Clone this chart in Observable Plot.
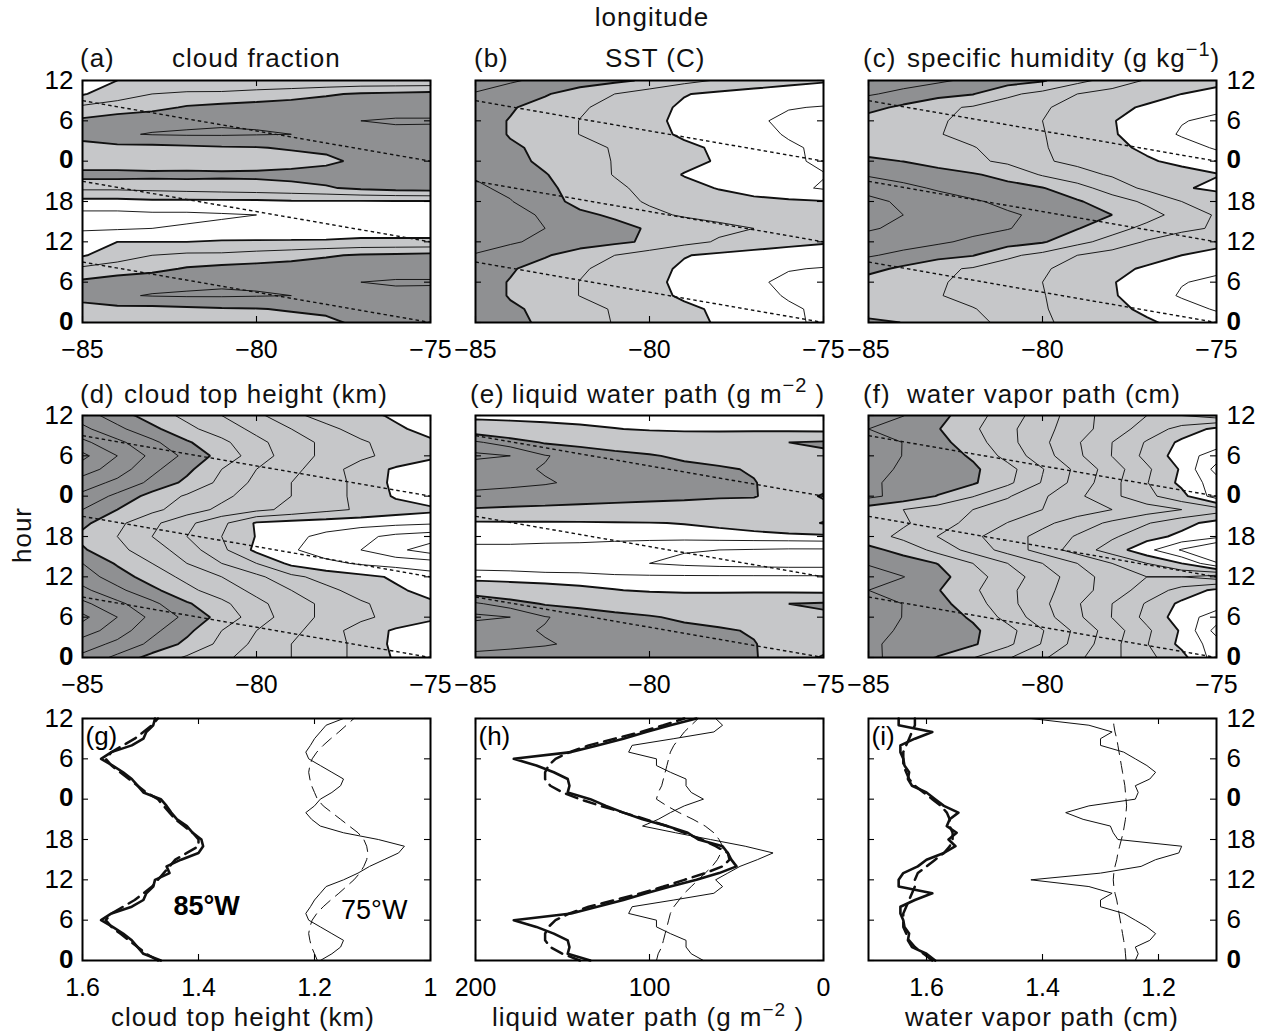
<!DOCTYPE html>
<html><head><meta charset="utf-8">
<script src="https://cdn.jsdelivr.net/npm/d3@7"></script>
<script src="https://cdn.jsdelivr.net/npm/@observablehq/plot@0.6"></script>
<style>
body{margin:0;background:#fff;}
#root{position:relative;width:1266px;height:1032px;overflow:hidden;background:#fff;font-family:"Liberation Sans",Arial,Helvetica,sans-serif;}
</style></head>
<body><div id="root"></div>
<script>
// ---------------- DATA ----------------
const lonTicks = [-85, -80, -75];
const lonTickLabels = ["\u221285", "\u221280", "\u221275"];
const hourTicks = [0, 6, 12, 18, 24, 30, 36];
const hourTickLabels = ["0", "6", "12", "18", "0", "6", "12"];
const gridLons = [-85, -84, -83, -82, -81, -80, -79, -78, -77, -76, -75];
const gridHours = [0, 2, 4, 6, 8, 10, 12, 14, 16, 18, 20, 22];
const dottedStartHour = [9, 21, 33];   // at 85W
const dottedEndHour = [0, 12, 24];     // at 75W

// (a) cloud fraction, rows = gridHours, columns = gridLons
const cloudFraction = [
  [0.72, 0.72, 0.72, 0.73, 0.74, 0.75, 0.76, 0.78, 0.82, 0.84, 0.85],
  [0.76, 0.77, 0.77, 0.78, 0.79, 0.795, 0.81, 0.82, 0.83, 0.84, 0.85],
  [0.84, 0.89, 0.905, 0.91, 0.91, 0.905, 0.9, 0.89, 0.88, 0.875, 0.87],
  [0.82, 0.86, 0.87, 0.88, 0.89, 0.89, 0.89, 0.89, 0.9, 0.91, 0.91],
  [0.72, 0.74, 0.77, 0.81, 0.83, 0.84, 0.85, 0.85, 0.86, 0.86, 0.86],
  [0.59, 0.66, 0.7, 0.72, 0.72, 0.74, 0.76, 0.79, 0.81, 0.82, 0.83],
  [0.59, 0.6, 0.6, 0.6, 0.61, 0.61, 0.61, 0.61, 0.62, 0.62, 0.62],
  [0.48, 0.49, 0.5, 0.51, 0.52, 0.53, 0.54, 0.55, 0.55, 0.55, 0.55],
  [0.47, 0.47, 0.48, 0.48, 0.49, 0.5, 0.51, 0.52, 0.53, 0.52, 0.51],
  [0.57, 0.57, 0.58, 0.58, 0.58, 0.58, 0.59, 0.59, 0.59, 0.59, 0.59],
  [0.72, 0.72, 0.73, 0.74, 0.75, 0.76, 0.77, 0.79, 0.82, 0.84, 0.85],
  [0.84, 0.84, 0.83, 0.83, 0.82, 0.82, 0.83, 0.84, 0.86, 0.87, 0.87]
];
// (b) SST (C)
const sst = [
  [23.6, 23.3, 22.8, 22.4, 21.95, 21.6, 21.3, 20.9, 20.6, 20.2, 19.8],
  [23.55, 23.1, 22.85, 22.4, 21.9, 21.55, 21.2, 20.85, 20.55, 20.15, 19.8],
  [23.4, 22.95, 22.5, 21.98, 21.7, 21.3, 20.85, 20.6, 20.35, 19.9, 19.6],
  [23.4, 22.95, 22.5, 21.98, 21.7, 21.2, 20.8, 20.5, 20.15, 19.8, 19.6],
  [23.5, 23.1, 22.6, 22.1, 21.75, 21.3, 20.85, 20.55, 20.25, 20.05, 19.95],
  [23.95, 23.6, 23.1, 22.5, 22.0, 21.5, 21.05, 20.8, 20.6, 20.5, 20.45],
  [24.3, 24.1, 23.8, 23.5, 23.2, 22.85, 22.3, 21.9, 21.6, 21.3, 21.1],
  [24.4, 24.2, 24.0, 23.6, 23.3, 22.9, 22.5, 22.2, 22.0, 21.9, 21.85],
  [24.5, 24.25, 23.9, 23.2, 22.85, 22.2, 21.9, 21.75, 21.6, 21.5, 21.4],
  [24.3, 24.05, 23.4, 22.7, 22.3, 21.9, 21.6, 21.4, 21.25, 21.15, 21.05],
  [24.15, 23.8, 23.2, 22.65, 22.2, 21.7, 21.3, 20.95, 20.6, 20.25, 19.9],
  [23.9, 23.6, 23.05, 22.5, 21.95, 21.45, 20.95, 20.75, 20.5, 20.25, 20.05]
];
// (c) specific humidity (g/kg)
const humidity = [
  [14.2, 13.98, 13.6, 13.2, 12.8, 12.1, 11.8, 11.4, 11.1, 10.8, 10.5],
  [13.55, 13.4, 13.25, 13.05, 12.6, 12.05, 11.75, 11.2, 10.85, 10.4, 9.9],
  [13.6, 13.3, 13.05, 12.7, 12.4, 12.05, 11.5, 11.1, 10.5, 9.9, 9.7],
  [13.6, 13.3, 13.1, 12.75, 12.4, 12.0, 11.5, 11.05, 10.6, 10.05, 9.8],
  [14.3, 13.8, 13.2, 12.9, 12.5, 12.1, 11.7, 11.2, 10.9, 10.5, 10.2],
  [15.1, 14.75, 14.35, 14.05, 13.2, 12.7, 12.0, 11.6, 11.3, 11.0, 10.8],
  [15.6, 15.4, 15.15, 14.8, 14.45, 14.1, 13.3, 12.6, 11.9, 11.5, 11.2],
  [16.1, 15.8, 15.6, 15.3, 15.05, 14.6, 14.05, 13.4, 12.7, 12.2, 11.9],
  [16.5, 16.0, 15.7, 15.45, 15.1, 14.85, 14.45, 14.0, 13.4, 12.6, 11.9],
  [16.3, 15.8, 15.35, 15.1, 14.8, 14.4, 14.1, 13.5, 12.8, 12.0, 11.6],
  [15.6, 15.2, 14.9, 14.6, 14.3, 14.05, 13.4, 12.5, 11.8, 11.1, 10.8],
  [14.9, 14.7, 14.4, 14.1, 13.7, 12.9, 12.3, 11.9, 11.6, 11.3, 11.05]
];
// (d) cloud top height (km)
const cloudTop = [
  [1.47, 1.43, 1.385, 1.355, 1.33, 1.30, 1.28, 1.255, 1.23, 1.195, 1.17],
  [1.50, 1.47, 1.43, 1.39, 1.35, 1.31, 1.28, 1.255, 1.23, 1.19, 1.16],
  [1.54, 1.50, 1.45, 1.41, 1.36, 1.32, 1.29, 1.26, 1.22, 1.195, 1.175],
  [1.57, 1.52, 1.47, 1.43, 1.385, 1.34, 1.30, 1.27, 1.25, 1.225, 1.21],
  [1.53, 1.49, 1.45, 1.405, 1.37, 1.33, 1.30, 1.27, 1.245, 1.225, 1.205],
  [1.49, 1.45, 1.41, 1.37, 1.34, 1.31, 1.28, 1.25, 1.225, 1.205, 1.19],
  [1.46, 1.42, 1.38, 1.35, 1.32, 1.29, 1.25, 1.225, 1.21, 1.195, 1.175],
  [1.44, 1.395, 1.36, 1.32, 1.28, 1.24, 1.19, 1.17, 1.155, 1.145, 1.14],
  [1.405, 1.37, 1.34, 1.30, 1.25, 1.19, 1.165, 1.14, 1.12, 1.09, 1.06],
  [1.39, 1.36, 1.32, 1.28, 1.24, 1.198, 1.17, 1.15, 1.13, 1.11, 1.10],
  [1.41, 1.37, 1.33, 1.29, 1.25, 1.195, 1.185, 1.18, 1.175, 1.17, 1.165],
  [1.44, 1.40, 1.37, 1.34, 1.31, 1.29, 1.27, 1.25, 1.235, 1.22, 1.21]
];
// (e) liquid water path (g m-2)
const liquidWater = [
  [126, 125, 124, 122, 120, 118, 116, 113, 112, 95, 65],
  [135, 133, 131, 128, 124, 120, 117, 114, 111, 100, 90],
  [136, 133, 129, 126, 123, 120, 116, 113, 108, 98, 88],
  [155, 150, 131, 124, 117, 112, 106, 101, 98, 100, 105],
  [133, 120, 108, 103, 98, 95, 93, 96, 104, 110, 114],
  [95, 88, 82, 76, 71, 67, 65, 64, 63, 62, 60],
  [60, 59, 58, 58, 57, 57, 57, 57, 57, 57, 57],
  [50, 50, 49, 48, 45, 40, 37, 35, 34, 33, 33],
  [50, 50, 49, 48, 46, 43, 41, 40, 39, 38, 38],
  [62, 62, 61, 61, 60, 60, 60, 61, 62, 63, 64],
  [65, 66, 66, 67, 68, 69, 71, 75, 82, 95, 112],
  [108, 106, 104, 102, 100, 98, 96, 95, 94, 92, 88]
];
// (f) water vapor path (cm)
const waterVapor = [
  [1.63, 1.605, 1.578, 1.542, 1.504, 1.466, 1.428, 1.39, 1.351, 1.313, 1.24],
  [1.625, 1.612, 1.598, 1.585, 1.549, 1.497, 1.445, 1.393, 1.342, 1.29, 1.24],
  [1.63, 1.616, 1.601, 1.587, 1.554, 1.502, 1.45, 1.399, 1.347, 1.295, 1.205],
  [1.64, 1.619, 1.599, 1.575, 1.526, 1.477, 1.428, 1.379, 1.329, 1.28, 1.24],
  [1.645, 1.619, 1.593, 1.558, 1.513, 1.469, 1.424, 1.38, 1.336, 1.291, 1.28],
  [1.62, 1.601, 1.582, 1.547, 1.51, 1.473, 1.437, 1.4, 1.363, 1.326, 1.29],
  [1.648, 1.621, 1.594, 1.555, 1.52, 1.48, 1.44, 1.40, 1.38, 1.38, 1.40],
  [1.615, 1.597, 1.579, 1.54, 1.50, 1.46, 1.42, 1.38, 1.34, 1.30, 1.225],
  [1.59, 1.568, 1.526, 1.485, 1.444, 1.403, 1.362, 1.321, 1.272, 1.216, 1.16],
  [1.56, 1.529, 1.499, 1.468, 1.438, 1.407, 1.376, 1.346, 1.315, 1.29, 1.27],
  [1.575, 1.546, 1.517, 1.488, 1.459, 1.43, 1.401, 1.372, 1.343, 1.314, 1.285],
  [1.56, 1.54, 1.52, 1.50, 1.48, 1.46, 1.44, 1.42, 1.40, 1.38, 1.36]
];

// hourly series (hour 0..23) at 85W and 75W, solid and dashed
const seriesHours = [0,1,2,3,4,5,6,7,8,9,10,11,12,13,14,15,16,17,18,19,20,21,22,23];
const cth85 = [1.465,1.495,1.505,1.515,1.53,1.548,1.568,1.55,1.515,1.495,1.49,1.478,1.475,1.45,1.455,1.43,1.40,1.392,1.395,1.41,1.42,1.437,1.447,1.455];
const cth85Dash = [1.47,1.49,1.505,1.52,1.535,1.55,1.56,1.55,1.53,1.51,1.495,1.48,1.47,1.46,1.45,1.44,1.42,1.40,1.40,1.41,1.425,1.44,1.45,1.46];
const cth75 = [1.19,1.17,1.155,1.15,1.17,1.19,1.21,1.215,1.207,1.20,1.19,1.18,1.15,1.125,1.105,1.08,1.055,1.045,1.09,1.15,1.19,1.205,1.215,1.20];
const cth75Dash = [1.195,1.20,1.205,1.208,1.21,1.208,1.204,1.196,1.185,1.172,1.158,1.145,1.132,1.122,1.115,1.11,1.108,1.11,1.115,1.125,1.14,1.155,1.17,1.185];
const lwp85 = [134,147,146,147,155,165,178,145,130,115,102,88,73,60,50,53,55,58,72,78,90,104,115,125];
const lwp85Dash = [140,150,157,160,160,158,154,146,135,120,105,92,80,68,58,54,55,62,70,80,90,102,115,128];
const lwp75 = [69,76,79,79,88,96,96,112,110,86,63,58,62,55,48,38,29,45,65,85,104,95,88,80];
const lwp75Dash = [96,95,93,92,91,90,89,88,86,83,80,76,72,68,64,61,59,58,60,63,68,75,83,90];
const wvp85 = [1.585,1.60,1.625,1.632,1.63,1.638,1.64,1.645,1.645,1.62,1.59,1.648,1.648,1.64,1.615,1.60,1.57,1.55,1.562,1.548,1.565,1.56,1.545,1.57];
const wvp85Dash = [1.59,1.605,1.62,1.63,1.635,1.64,1.64,1.64,1.635,1.63,1.625,1.62,1.62,1.615,1.60,1.585,1.57,1.56,1.555,1.555,1.56,1.56,1.565,1.575];
const wvp75 = [1.24,1.235,1.24,1.215,1.205,1.22,1.24,1.26,1.30,1.30,1.28,1.32,1.42,1.30,1.23,1.205,1.165,1.16,1.27,1.278,1.283,1.33,1.36,1.32];
const wvp75Dash = [1.256,1.257,1.258,1.26,1.262,1.264,1.266,1.268,1.27,1.272,1.275,1.277,1.278,1.277,1.275,1.272,1.27,1.267,1.264,1.261,1.259,1.257,1.256,1.255];

// ---------------- LAYOUT / STYLE ----------------
const root = document.getElementById("root");
const FW = 348, FH = 242, TICK = 6;
const M = {top: 14, right: 80, bottom: 50, left: 80};
const LIGHT = "#c6c7c9", DARK = "#8f9092";
const FONT = '"Liberation Sans", Arial, Helvetica, sans-serif';
const FS = 26, XFS = 25;
const colLeft = [82, 475, 868];
const rowTop = [80, 415, 718];

function place(el, left, top) {
  el.style.position = "absolute";
  el.style.left = (left - M.left) + "px";
  el.style.top = (top - M.top) + "px";
  root.appendChild(el);
}

function frameMarks(xd, xTicks, xLabels, leftLabels, rightLabels) {
  const yd = [0, 36];
  const tx = (xd[1] - xd[0]) * TICK / FW, ty = (yd[1] - yd[0]) * TICK / FH;
  const hObjs = hourTicks.map((v, i) => ({v, label: hourTickLabels[i]}));
  const xObjs = xTicks.map((v, i) => ({v, label: xLabels[i]}));
  const tk = {stroke: "black", strokeWidth: 1.1};
  const m = [
    Plot.frame({stroke: "black", strokeWidth: 2}),
    Plot.ruleY(hourTicks, {y: d => d, x1: xd[0], x2: xd[0] + tx, ...tk}),
    Plot.ruleY(hourTicks, {y: d => d, x1: xd[1], x2: xd[1] - tx, ...tk}),
    Plot.ruleX(xTicks, {x: d => d, y1: yd[0], y2: yd[0] + ty, ...tk}),
    Plot.ruleX(xTicks, {x: d => d, y1: yd[1], y2: yd[1] - ty, ...tk}),
    Plot.text(xObjs, {x: "v", y: yd[0], text: "label", dy: 27, fontSize: XFS, lineAnchor: "middle"})
  ];
  const sides = [];
  if (leftLabels) sides.push({x: xd[0], anchor: "end", dx: -9});
  if (rightLabels) sides.push({x: xd[1], anchor: "start", dx: 10});
  for (const s of sides) {
    m.push(Plot.text(hObjs.filter(d => d.label !== "0"), {x: s.x, y: "v", text: "label", textAnchor: s.anchor, dx: s.dx, dy: 0, fontSize: FS}));
    m.push(Plot.text(hObjs.filter(d => d.label === "0"), {x: s.x, y: "v", text: "label", textAnchor: s.anchor, dx: s.dx, dy: -1, fontSize: FS, fontWeight: "bold"}));
  }
  return m;
}

function makePlot(xd, marks) {
  return Plot.plot({
    width: FW + M.left + M.right, height: FH + M.top + M.bottom,
    marginTop: M.top, marginRight: M.right, marginBottom: M.bottom, marginLeft: M.left,
    x: {domain: xd, axis: null}, y: {domain: [0, 36], axis: null},
    style: {background: "transparent", fontFamily: FONT, overflow: "visible", maxWidth: "none"},
    marks
  });
}

function contourPanel(rows, thick, thin, col, row, leftLabels, rightLabels) {
  const step = gridHours[1] - gridHours[0];
  const values = [];
  for (let h = 0; h <= 36; h += step) values.push(...rows[gridHours.indexOf(h % 24)]);
  const nx = gridLons.length, ny = values.length / nx;
  const dx = gridLons[1] - gridLons[0];
  const common = {width: nx, height: ny,
    x1: gridLons[0] - dx / 2, x2: gridLons[nx - 1] + dx / 2,
    y1: -step / 2, y2: 36 + step / 2, value: Plot.identity, clip: true};
  const dotted = dottedStartHour.map((s, i) => ({s, e: dottedEndHour[i]}));
  const xd = [lonTicks[0], lonTicks[lonTicks.length - 1]];
  const marks = [
    Plot.contour(values, {...common, thresholds: [thick[0]], fill: LIGHT, stroke: "none"}),
    Plot.contour(values, {...common, thresholds: [thick[1]], fill: DARK, stroke: "none"}),
    Plot.contour(values, {...common, thresholds: thin, fill: "none", stroke: "#111", strokeWidth: 0.95}),
    Plot.contour(values, {...common, thresholds: thick, fill: "none", stroke: "#111", strokeWidth: 1.9}),
    Plot.link(dotted, {x1: xd[0], x2: xd[1], y1: "s", y2: "e", stroke: "#111", strokeWidth: 1.4, strokeDasharray: "3.5,3"}),
    ...frameMarks(xd, lonTicks, lonTickLabels, leftLabels, rightLabels)
  ];
  place(makePlot(xd, marks), colLeft[col], rowTop[row]);
}

function seriesOf(arr) {
  const out = [];
  for (let h = 0; h <= 36; h++) out.push({h, v: arr[seriesHours.indexOf(h % 24)]});
  return out;
}

function linePanel(xd, xTicks, xLabels, s85, s85d, s75, s75d, tag, col, leftLabels, rightLabels, extra) {
  const marks = [
    Plot.line(seriesOf(s75d), {x: "v", y: "h", stroke: "#111", strokeWidth: 1, strokeDasharray: "12,7"}),
    Plot.line(seriesOf(s75), {x: "v", y: "h", stroke: "#111", strokeWidth: 1}),
    Plot.line(seriesOf(s85d), {x: "v", y: "h", stroke: "#111", strokeWidth: 2.5, strokeDasharray: "12,7"}),
    Plot.line(seriesOf(s85), {x: "v", y: "h", stroke: "#111", strokeWidth: 2.6, strokeLinejoin: "round"}),
    Plot.text([tag], {frameAnchor: "top-left", textAnchor: "start", lineAnchor: "top", dx: 3, dy: 8, fontSize: FS}),
    ...(extra || []),
    ...frameMarks(xd, xTicks, xLabels, leftLabels, rightLabels)
  ];
  place(makePlot(xd, marks), colLeft[col], rowTop[2]);
}

// ---------------- PANELS ----------------
contourPanel(cloudFraction, [0.6, 0.8], [0.5, 0.7, 0.9], 0, 0, true, false);
contourPanel(sst, [21, 23], [20, 22, 24], 1, 0, false, false);
contourPanel(humidity, [11, 14], [10, 12, 13, 15, 16], 2, 0, false, true);
contourPanel(cloudTop, [1.2, 1.4], [1.04, 1.08, 1.12, 1.16, 1.24, 1.28, 1.32, 1.36, 1.44, 1.48, 1.52, 1.56], 0, 1, true, false);
contourPanel(liquidWater, [70, 110], [40, 55, 130, 150], 1, 1, false, false);
contourPanel(waterVapor, [1.30, 1.58], [1.22, 1.26, 1.34, 1.38, 1.42, 1.46, 1.50, 1.54, 1.62, 1.66], 2, 1, false, true);

const siteLabels = [{text: "85\u00b0W", x: 1.386, y: 8.0, bold: true}, {text: "75\u00b0W", x: 1.097, y: 7.4, bold: false}];
linePanel([1.6, 1.0], [1.6, 1.4, 1.2, 1.0], ["1.6", "1.4", "1.2", "1"], cth85, cth85Dash, cth75, cth75Dash, "(g)", 0, true, false, [
  Plot.text(siteLabels.filter(d => d.bold), {x: "x", y: "y", text: "text", fontSize: 27, fontWeight: "bold"}),
  Plot.text(siteLabels.filter(d => !d.bold), {x: "x", y: "y", text: "text", fontSize: 27})
]);
linePanel([200, 0], [200, 100, 0], ["200", "100", "0"], lwp85, lwp85Dash, lwp75, lwp75Dash, "(h)", 1, false, false);
linePanel([1.7, 1.1], [1.6, 1.4, 1.2], ["1.6", "1.4", "1.2"], wvp85, wvp85Dash, wvp75, wvp75Dash, "(i)", 2, false, true);

// ---------------- TITLES ----------------
const svg = d3.select(root).append("svg")
  .attr("width", 1266).attr("height", 1032)
  .style("position", "absolute").style("left", 0).style("top", 0)
  .style("pointer-events", "none")
  .style("font-family", FONT).style("font-size", FS + "px").style("letter-spacing", "1px");

function title(x, y, parts, anchor) {
  const t = svg.append("text").attr("x", x).attr("y", y).attr("text-anchor", anchor || "start").attr("fill", "#111");
  for (const p of parts) {
    if (typeof p === "string") t.append("tspan").text(p);
    else t.append("tspan").attr("dy", p.dy).style("font-size", p.size ? p.size + "px" : null).text(p.t);
  }
  return t;
}
title(652, 26, ["longitude"], "middle");
title(80, 67, ["(a)"]); title(172, 67, ["cloud fraction"]);
title(474, 67, ["(b)"]); title(605, 67, ["SST (C)"]);
title(863, 67, ["(c)"]); title(907, 67, ["specific humidity (g kg", {t: "\u22121", dy: -11, size: 20}, {t: ")", dy: 11, size: FS}]);
title(80, 403, ["(d)"]); title(124, 403, ["cloud top height (km)"]);
title(470, 403, ["(e)"]); title(512, 403, ["liquid water path (g m", {t: "\u22122", dy: -11, size: 20}, {t: " )", dy: 11, size: FS}]);
title(863, 403, ["(f)"]); title(907, 403, ["water vapor path (cm)"]);
title(243, 1026, ["cloud top height (km)"], "middle");
title(648, 1026, ["liquid water path (g m", {t: "\u22122", dy: -10, size: 19}, {t: " )", dy: 10, size: FS}], "middle");
title(1042, 1026, ["water vapor path (cm)"], "middle");
svg.append("text").attr("transform", "translate(31,535) rotate(-90)").attr("text-anchor", "middle").attr("fill", "#111").text("hour");
</script>
</body></html>
